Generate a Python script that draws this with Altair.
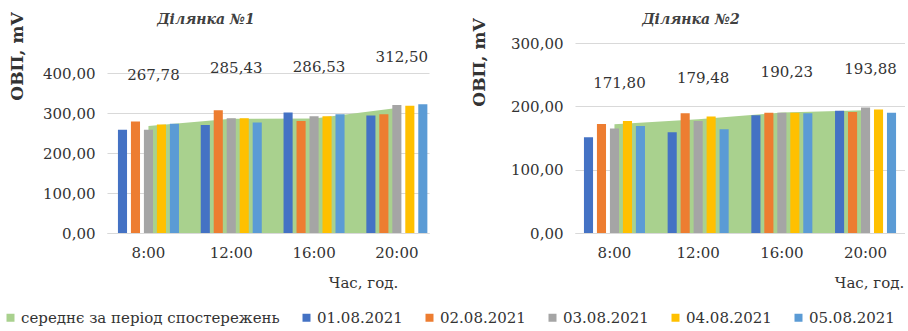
import altair as alt
import pandas as pd

# Categories
times = ["8:00", "12:00", "16:00", "20:00"]
dates = ["01.08.2021", "02.08.2021", "03.08.2021", "04.08.2021", "05.08.2021"]
mean_name = "середнє за період спостережень"

# Ділянка №1: ОВП by day (mV), one list per date across the four hours
s1_d1 = [258, 270, 301, 294]
s1_d2 = [279, 307, 280, 297]
s1_d3 = [258, 287, 292, 320]
s1_d4 = [271, 287, 292, 318]
s1_d5 = [273, 276, 297, 322]
s1_mean = [267.78, 285.43, 286.53, 312.50]

# Ділянка №2
s2_d1 = [151, 159, 186, 193]
s2_d2 = [172, 189, 190, 191]
s2_d3 = [165, 177, 190, 198]
s2_d4 = [177, 184, 190, 195]
s2_d5 = [169, 164, 189, 190]
s2_mean = [171.80, 179.48, 190.23, 193.88]

colors = ["#A9D18E", "#4472C4", "#ED7D31", "#A5A5A5", "#FFC000", "#5B9BD5"]

FONT = "DejaVu Serif"
TXT = "#333333"
GRID = "#D9D9D9"


def bars_frame(series_lists):
    rows = []
    for d, vals in zip(dates, series_lists):
        for t, v in zip(times, vals):
            rows.append({"time": t, "series": d, "value": v})
    return pd.DataFrame(rows)


def mean_frame(vals):
    return pd.DataFrame({"time": times, "series": mean_name, "value": vals})


def panel(title, title_x, bars_df, mean_df, ymax, yticks, width,
          pad_inner, pad_outer, align, ytitle_x, ytitle_y, xtitle_x, label_dy):
    x = alt.X(
        "time:N", sort=times,
        scale=alt.Scale(paddingInner=pad_inner, paddingOuter=pad_outer, align=align),
        axis=alt.Axis(
            title="Час, год.", labelAngle=0, ticks=False, domain=True,
            domainColor=GRID, labelPadding=12, titleX=xtitle_x, titleY=49,
            titleAlign="center", titleBaseline="middle", titleFontWeight="normal",
        ),
    )
    y = alt.Y(
        "value:Q",
        scale=alt.Scale(domain=[0, ymax], nice=False, zero=True),
        axis=alt.Axis(
            title="ОВП, mV", values=yticks, ticks=False, domain=False,
            labelPadding=12, gridColor=GRID,
            labelExpr="replace(format(datum.value, '.2f'), '.', ',')",
            titleX=ytitle_x, titleY=ytitle_y, titleAngle=270,
            titleAlign="center", titleBaseline="middle",
            titleFontWeight="bold", titleFontSize=17,
        ),
    )
    color = alt.Color(
        "series:N",
        scale=alt.Scale(domain=[mean_name] + dates, range=colors),
        legend=alt.Legend(title=None, symbolType="square"),
    )

    area = alt.Chart(mean_df).mark_area(opacity=1).encode(x=x, y=y, color=color)

    bars = alt.Chart(bars_df).mark_bar().encode(
        x=x,
        xOffset=alt.XOffset("series:N", sort=dates,
                            scale=alt.Scale(paddingInner=0.3, paddingOuter=0)),
        y=y,
        color=color,
    )

    labels = alt.Chart(mean_df).transform_calculate(
        label="replace(format(datum.value, '.2f'), '.', ',')"
    ).mark_text(
        font=FONT, fontSize=15, color=TXT, dx=5, dy=label_dy, baseline="middle"
    ).encode(x=x, y=y, text="label:N")

    heading = alt.Chart(pd.DataFrame({"t": [title]})).mark_text(
        font=FONT, fontSize=14, fontStyle="italic", fontWeight="bold",
        color="#404040", align="center", baseline="alphabetic",
    ).encode(text="t:N", x=alt.value(title_x), y=alt.value(-19))

    return alt.layer(area, bars, labels, heading).properties(width=width, height=190)


left = panel("Ділянка №1", 99, bars_frame([s1_d1, s1_d2, s1_d3, s1_d4, s1_d5]),
             mean_frame(s1_mean), 475, [0, 100, 200, 300, 400], 322,
             0.263, 0.076, 0.87, -90, 13, 256, -51)
right = panel("Ділянка №2", 116, bars_frame([s2_d1, s2_d2, s2_d3, s2_d4, s2_d5]),
              mean_frame(s2_mean), 300, [0, 100, 200, 300], 330,
              0.271, 0.107, 0.5, -96, 19, 294, -41)

chart = alt.hconcat(left, right, spacing=41).properties(
    padding={"left": 3, "top": 11, "right": 0, "bottom": 0}
).configure_view(stroke=None).configure_axis(
    labelFont=FONT, labelFontSize=15, labelColor=TXT,
    titleFont=FONT, titleFontSize=15, titleColor=TXT,
).configure_legend(
    orient="none", legendX=-104, legendY=267, direction="horizontal", columns=6,
    labelFont=FONT, labelFontSize=15, labelColor=TXT, labelLimit=0,
    symbolSize=64, symbolStrokeWidth=0, labelOffset=3, columnPadding=19,
    padding=0,
)

chart.save("out.html", embed_options={"renderer": "svg", "actions": False})
